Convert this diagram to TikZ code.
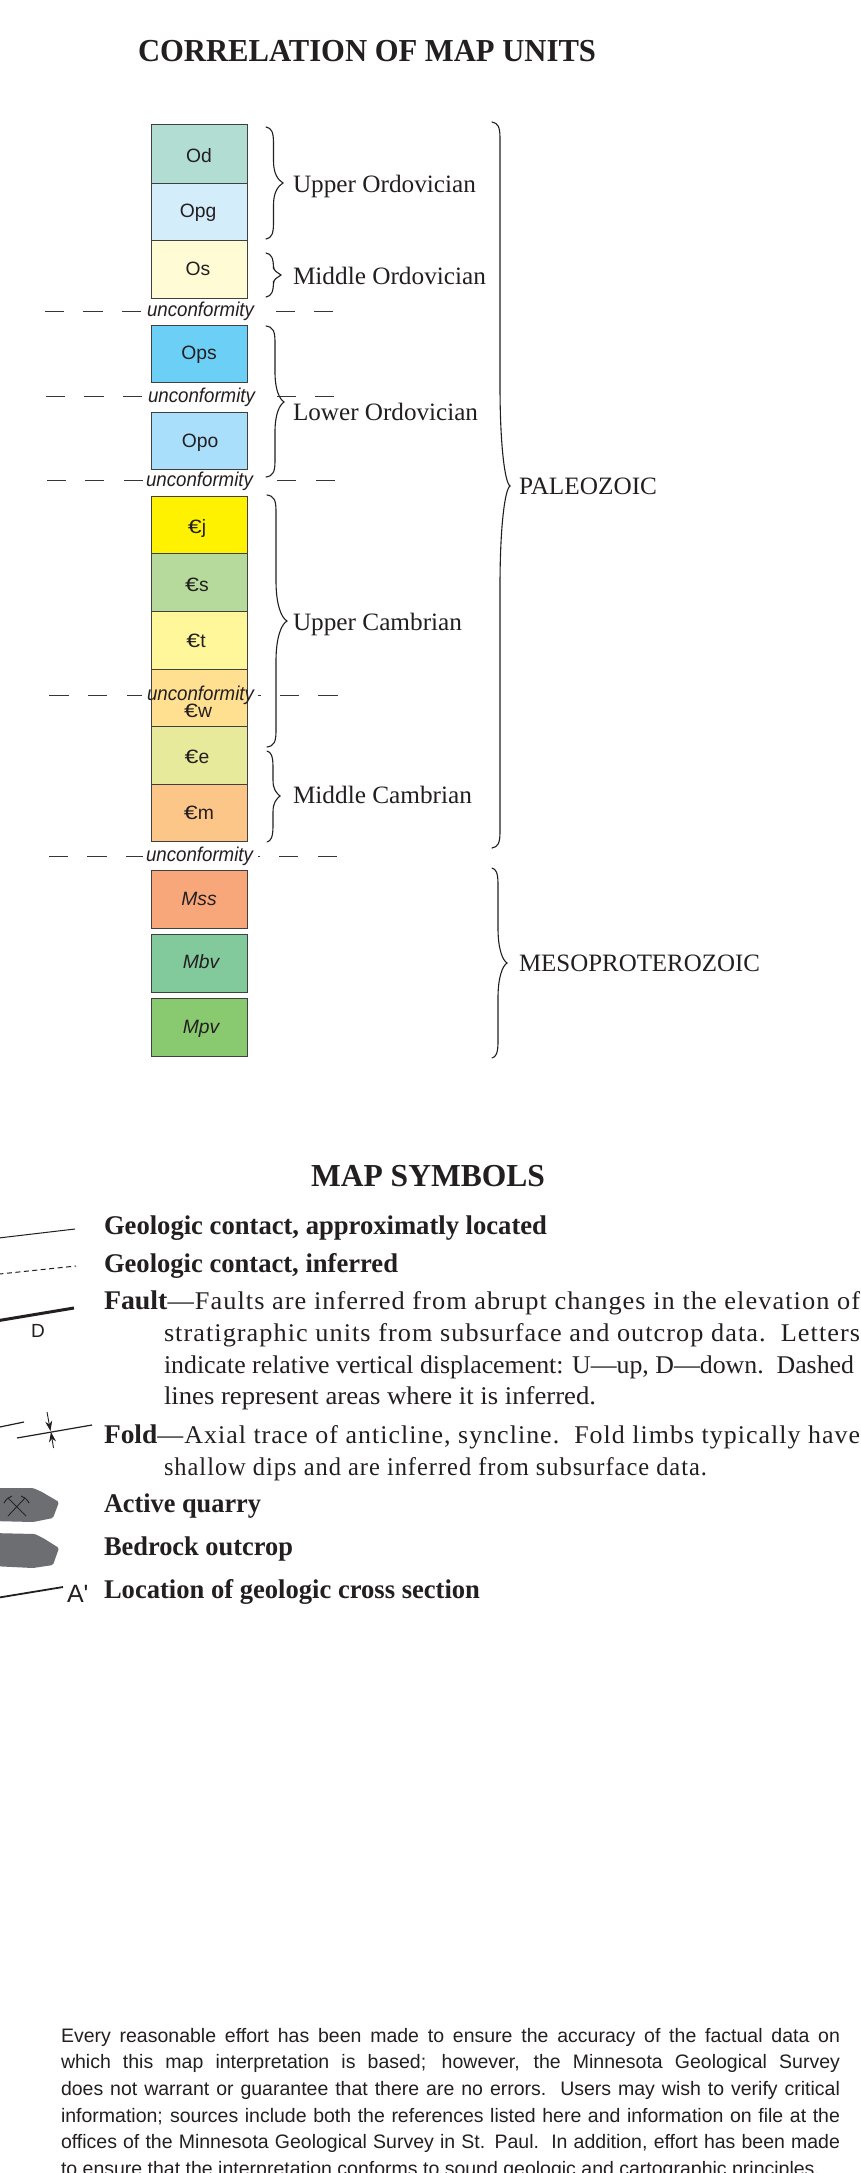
\documentclass[tikz,border=0pt]{standalone}
\usepackage{fontspec}
\usepackage{graphicx}
\setmainfont{Liberation Serif}
\setsansfont{Liberation Sans}
\newfontfamily\plainsans{Liberation Sans}
\usetikzlibrary{arrows.meta}
\definecolor{ink}{HTML}{231F20}
\definecolor{rockgrey}{HTML}{6D6E71}
\definecolor{cOd}{HTML}{B2DDD2}
\definecolor{cOpg}{HTML}{D4EDFB}
\definecolor{cOs}{HTML}{FFFBD5}
\definecolor{cOps}{HTML}{6BCFF6}
\definecolor{cOpo}{HTML}{A9DFFB}
\definecolor{cCj}{HTML}{FFF200}
\definecolor{cCs}{HTML}{B5DA9C}
\definecolor{cCt}{HTML}{FFF799}
\definecolor{cCw}{HTML}{FFDF90}
\definecolor{cCe}{HTML}{E6EA9A}
\definecolor{cCm}{HTML}{FDC689}
\definecolor{cMss}{HTML}{F8A77B}
\definecolor{cMbv}{HTML}{82CA9C}
\definecolor{cMpv}{HTML}{89C96F}
\tikzset{
  x=1pt,y=-1pt,
  txt/.style={anchor=base west,inner sep=0pt,outer sep=0pt,text=ink},
  unitbox/.style={draw=black!75,line width=1pt,inner sep=0pt,minimum width=96pt,outer sep=0pt},
  unitlabel/.style={anchor=base,inner sep=0pt,text=ink,font=\sffamily\fontsize{19.3}{19}\selectfont},
  unitlabelit/.style={unitlabel,font=\sffamily\itshape\fontsize{19.3}{19}\selectfont},
  unconf/.style={txt,font=\sffamily\itshape\fontsize{20}{20}\selectfont},
  dashrow/.style={draw=ink!90,line width=.95pt},
  bracepath/.style={draw=ink,line width=1.1pt,line cap=round},
  head/.style={txt,font=\bfseries\fontsize{32}{32}\selectfont},
  era/.style={txt,font=\fontsize{25}{25}\selectfont},
  sym/.style={txt,font=\fontsize{27}{27}\selectfont},
  body/.style={txt,font=\fontsize{25.5}{25.5}\selectfont},
  note/.style={txt,font=\sffamily\fontsize{19.5}{19.5}\selectfont},
  symlabel/.style={txt,font=\sffamily\fontsize{19}{19}\selectfont},
}
\newcommand{\fitw}[2]{\resizebox{#1pt}{\height}{#2}}
\newcommand{\Wd}[1]{{\addfontfeature{LetterSpace=4}#1}}
\newcommand{\Ce}{\scalebox{1.3}[1]{€}}
\newcommand{\LeadIn}[1]{\textbf{\fontsize{27}{27}\selectfont #1}}
% name, x, baseline, width, style, text
\newcommand{\Txt}[6]{\node[#5] (#1) at (#2,#3) {\fitw{#4}{#6}};}
% name, top, bottom, colour, label x, label baseline, label style, label
\newcommand{\Unit}[8]{%
  \node[unitbox,fill=#4,minimum height=#3pt-#2pt,anchor=north] (#1) at (199.8,#2) {};
  \node[#7] (#1L) at (#5,#6) {#8};}
% xl, spine x, tip x, top, mid, bottom, curve length
\newcommand{\Brace}[7]{%
  \draw[bracepath] (#1,#4) .. controls (#2-2,#4+1) and (#2,#4+5) .. (#2,#4+16)
    -- (#2,#5-#7) .. controls (#2,#5-#7*0.4) and (#2+#3*0.5-#2*0.5,#5-3) .. (#3,#5)
    .. controls (#2+#3*0.5-#2*0.5,#5+3) and (#2,#5+#7*0.4) .. (#2,#5+#7)
    -- (#2,#6-16) .. controls (#2,#6-5) and (#2-2,#6-1) .. (#1,#6);}
\newcommand{\Bjust}[3]{\node[note] (#1) at (61,#2) {\hbox to 779pt{\spaceskip=.28em plus 1fil minus .2em #3}};}
\begin{document}
\begin{tikzpicture}
\useasboundingbox (0,0) rectangle (861,2173);
\fill[white] (0,0) rectangle (861,2173);
\begin{scope}
\clip (0,0) rectangle (861,2173);

\Txt{title}{138}{62}{458}{head}{CORRELATION OF MAP UNITS}

\Unit{Od}{125}{183}{cOd}{199}{162}{unitlabel}{Od}
\Unit{Opg}{183}{240}{cOpg}{198}{217}{unitlabel}{Opg}
\Unit{Os}{240}{298}{cOs}{198}{275}{unitlabel}{Os}
\Unit{Ops}{325}{382}{cOps}{199}{359}{unitlabel}{Ops}
\Unit{Opo}{412}{469}{cOpo}{200}{447}{unitlabel}{Opo}
\Unit{Cj}{496}{553}{cCj}{197}{533}{unitlabel}{\Ce j}
\Unit{Cs}{553}{611}{cCs}{197}{591}{unitlabel}{\Ce s}
\Unit{Ct}{611}{669}{cCt}{196}{647}{unitlabel}{\Ce t}
\Unit{Cw}{669}{726}{cCw}{198}{717}{unitlabel}{\Ce w}
\Unit{Ce}{726}{784}{cCe}{197}{763}{unitlabel}{\Ce e}
\Unit{Cm}{784}{841}{cCm}{199}{819}{unitlabel}{\Ce m}
\Unit{Mss}{870}{928}{cMss}{199}{905}{unitlabelit}{Mss}
\Unit{Mbv}{934}{992}{cMbv}{201}{968}{unitlabelit}{Mbv}
\Unit{Mpv}{998}{1056}{cMpv}{201}{1033}{unitlabelit}{Mpv}

\Txt{u1}{147}{316}{107}{unconf}{unconformity}
\Txt{u2}{148}{402}{107}{unconf}{unconformity}
\Txt{u3}{146}{486}{107}{unconf}{unconformity}
\Txt{u4}{147}{700}{107}{unconf}{unconformity}
\Txt{u5}{146}{861}{107}{unconf}{unconformity}

\draw[dashrow] (45,311)--(64,311) (83,311)--(103,311) (122,311)--(141,311) (276,311)--(295,311) (314,311)--(333,311);
\draw[dashrow] (46,396)--(65,396) (84,396)--(104,396) (123,396)--(142,396) (277,396)--(296,396) (315,396)--(334,396);
\draw[dashrow] (47,480)--(66,480) (85,480)--(104,480) (124,480)--(143,480) (277,480)--(296,480) (316,480)--(335,480);
\draw[dashrow] (49,695)--(69,695) (88,695)--(107,695) (127,695)--(142,695) (258,695)--(261,695) (280,695)--(299,695) (318,695)--(338,695);
\draw[dashrow] (49,856)--(68,856) (87,856)--(107,856) (126,856)--(143,856) (258,856)--(260,856) (279,856)--(298,856) (318,856)--(337,856);

\Brace{266}{273.5}{283}{127}{183}{239}{22}
\Brace{266}{273.5}{281}{253}{275}{297}{9}
\Brace{266}{275}{284}{326}{402}{477}{30}
\Brace{267}{276}{287}{495}{621}{747}{40}
\Brace{267}{273}{280}{751}{796}{842}{16}
\Brace{492}{500}{510}{122}{486}{848}{100}
\Brace{492}{498}{507}{868}{963}{1058}{35}

\Txt{uo}{293}{192}{183}{era}{Upper Ordovician}
\Txt{mo}{293}{284}{193}{era}{Middle Ordovician}
\Txt{lo}{293}{420}{185}{era}{Lower Ordovician}
\Txt{uc}{293}{630}{169}{era}{Upper Cambrian}
\Txt{mc}{293}{803}{179}{era}{Middle Cambrian}
\Txt{pal}{519}{494}{138}{era}{PALEOZOIC}
\Txt{mes}{519}{971}{241}{era}{MESOPROTEROZOIC}

\Txt{symtitle}{311}{1186}{234}{head}{MAP SYMBOLS}
\Txt{s1}{104}{1234}{443}{sym}{\textbf{Geologic contact, approximatly located}}
\Txt{s2}{104}{1272}{294}{sym}{\textbf{Geologic contact, inferred}}
\Txt{s3}{104}{1309}{756}{body}{\LeadIn{Fault}\Wd{—Faults are inferred from abrupt changes in the elevation of}}
\Txt{s4}{164}{1341}{696}{body}{\Wd{stratigraphic units from subsurface and outcrop data.\ \ Letters}}
\Txt{s5}{164}{1373}{690}{body}{indicate relative vertical displacement: U—up, D—down.\ \ Dashed}
\Txt{s6}{164}{1404}{432}{body}{lines represent areas where it is inferred.}
\Txt{s7}{104}{1443}{756}{body}{\LeadIn{Fold}\Wd{—Axial trace of anticline, syncline.\ \ Fold limbs typically have}}
\Txt{s8}{164}{1475}{543}{body}{\Wd{shallow dips and are inferred from subsurface data.}}
\Txt{s9}{104}{1512}{157}{sym}{\textbf{Active quarry}}
\Txt{s10}{104}{1555}{189}{sym}{\textbf{Bedrock outcrop}}
\Txt{s11}{104}{1598}{376}{sym}{\textbf{Location of geologic cross section}}

% map-symbol swatches, cut off by the left edge as in the source
\draw[ink,line width=1pt] (-10,1239) -- (75,1229);
\draw[ink,line width=1pt,dash pattern=on 5pt off 3.5pt] (-10,1275) -- (76,1266);
\draw[ink,line width=3pt] (-10,1322) -- (74,1308);
\node[symlabel,anchor=base east] (faultU) at (1.5,1311) {U};
\node[symlabel] (faultD) at (31,1337) {D};
\draw[ink,line width=1.2pt] (-10,1429) -- (24,1422);
\draw[ink,line width=1.2pt] (17,1438) -- (92,1425);
\draw[ink,line width=.9pt,-{Stealth[length=10pt,width=7pt]}] (47,1412) -- (50.5,1431);
\draw[ink,line width=.9pt,-{Stealth[length=10pt,width=7pt]}] (53.5,1448) -- (51,1432);
\fill[rockgrey,rounded corners=1.5pt] (-8,1488) -- (33,1488) -- (42,1492) -- (59,1502) -- (53,1518) -- (33,1522) -- (-8,1521) -- cycle;
\draw[black!85,line width=.9pt] (8,1498) -- (26,1516) (25,1498) -- (8,1516);
\draw[black!85,line width=1pt] (4,1503) .. controls (6,1499) and (9,1497) .. (12,1496)
   (21,1496) .. controls (24,1497) and (27,1499) .. (29,1503);
\fill[rockgrey,rounded corners=1.5pt] (-8,1533) -- (35,1534) -- (43,1538) -- (59,1548) -- (53,1565) -- (33,1568) -- (-8,1566) -- cycle;
\draw[ink,line width=1.8pt] (-10,1599) -- (63,1587);
\node[txt,font=\plainsans\fontsize{25}{25}\selectfont] (Aprime) at (67,1602) {A'};

\Bjust{n1}{2042}{Every reasonable effort has been made to ensure the accuracy of the factual data on}
\Bjust{n2}{2068}{which this map interpretation is based; however, the Minnesota Geological Survey}
\Bjust{n3}{2095}{does not warrant or guarantee that there are no errors.\ \ Users may wish to verify critical}
\Bjust{n4}{2122}{information; sources include both the references listed here and information on file at the}
\Bjust{n5}{2148}{offices of the Minnesota Geological Survey in St. Paul.\ \ In addition, effort has been made}
\Txt{n6}{61}{2175}{759}{note}{to ensure that the interpretation conforms to sound geologic and cartographic principles.}
\end{scope}
\end{tikzpicture}
\end{document}
